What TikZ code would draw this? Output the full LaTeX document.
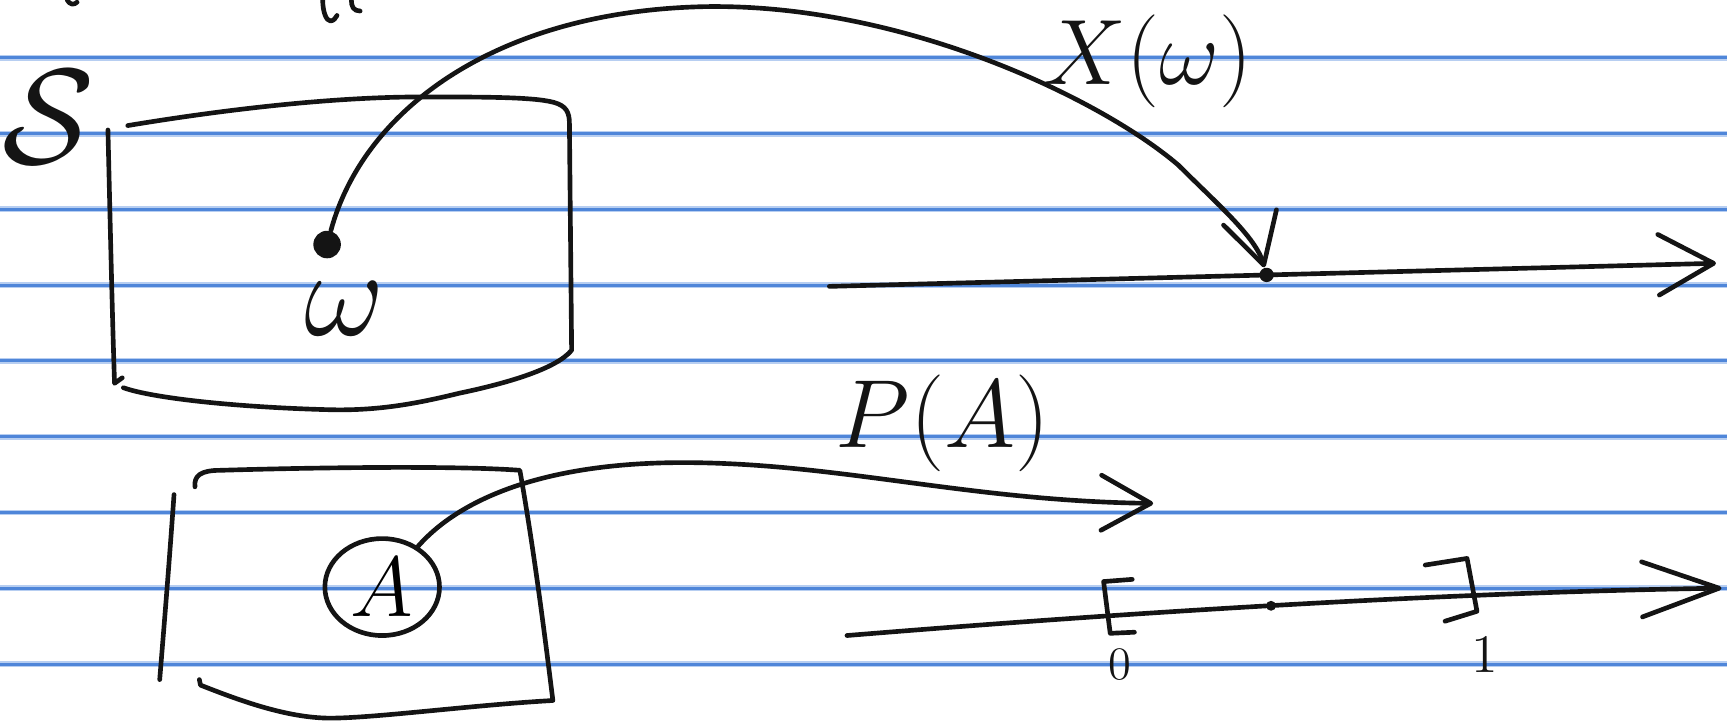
\RequirePackage{fix-cm}
\documentclass[tikz,border=0pt]{standalone}
\usepackage{tikz}
\usetikzlibrary{arrows.meta,positioning,shapes.geometric}
\definecolor{NBInk}{HTML}{141414}
\definecolor{NBRule}{HTML}{4F86D9}
\definecolor{NBRuleSoft}{HTML}{B7CEF1}
\tikzset{
  pen/.style={draw=NBInk,line width=1.2pt,line cap=round,line join=round},
  penarrow/.style={pen,-{Straight Barb[length=4.5mm,width=5mm,round]}},
  axisarrow/.style={pen,-{Straight Barb[length=5mm,width=5.5mm,round]}},
  axislong/.style={pen,-{Straight Barb[length=7mm,width=5mm,round]}},
  rulesoft/.style={NBRuleSoft,line width=1.5pt},
  rulecore/.style={NBRule,line width=0.75pt},
  blob/.style={circle,fill=NBInk,inner sep=0pt},
  hand/.style={text=NBInk,inner sep=0pt},
  tick/.style={hand,font=\fontsize{12}{14}\selectfont},
}
\begin{document}
\begin{tikzpicture}[x=0.01cm,y=-0.01cm]
  \useasboundingbox (0,0) rectangle (1568,656);
  \fill[white] (0,0) rectangle (1568,656);
  \foreach \k in {0,...,8}{
    \draw[rulesoft] (0,{52.5+68.8*\k}) -- (1568,{52.5+68.8*\k});
    \draw[rulecore] (0,{52.5+68.8*\k}) -- (1568,{52.5+68.8*\k});
  }

  % ends of the line above, cut off
  \draw[pen] (61,0) .. controls (63,4) and (67,5) .. (70,2);
  \draw[pen] (293,0) .. controls (293,10) and (296,19) .. (300,19) .. controls (303,19) and (305,16) .. (306,14);
  \draw[pen] (319,0) .. controls (319,6) and (321,10) .. (327,10);

  \node[hand,font=\fontsize{35}{40}\selectfont] (space) at (44,106) {$\mathcal{S}$};

  % sample space
  \draw[pen] (116,114) .. controls (200,100) and (300,88) .. (382,88)
    .. controls (440,88) and (485,88) .. (503,93) .. controls (514,96) and (517,102) .. (517,112)
    -- (519,318) .. controls (505,335) and (460,348) .. (417,357)
    .. controls (380,366) and (345,373) .. (300,372) .. controls (220,370) and (140,362) .. (112,352);
  \draw[pen] (98,118) .. controls (100,200) and (102,290) .. (104,348) -- (111,343);

  \node[blob,minimum size=2.5mm] (w) at (297,222) {};
  \node[hand,font=\fontsize{32}{38}\selectfont] (wlab) at (313,280) {$\omega$};

  \coordinate (ax1s) at (753,260);
  \coordinate (ax1e) at (1558,239);
  \draw[axisarrow] (ax1s) -- (ax1e);
  \node[blob,minimum size=1.3mm] (xw) at (1150,249.6) {};

  \draw[penarrow] (w) .. controls (330,100) and (450,10) .. (640,6)
    .. controls (820,3) and (1000,90) .. (1070,150)
    .. controls (1105,185) and (1140,215) .. (xw);
  \node[hand,font=\fontsize{24}{28}\selectfont] (xlab) at (1042,56) {$X(\omega)$};

  % events
  \draw[pen] (177,442) .. controls (176,432) and (182,427) .. (200,427)
    .. controls (300,424) and (420,423) .. (472,427)
    .. controls (485,500) and (495,580) .. (502,636)
    .. controls (430,640) and (340,652) .. (300,652)
    .. controls (260,652) and (215,635) .. (182,622) -- (181,617);
  \draw[pen] (158,449) .. controls (153,520) and (148,580) .. (145,617);

  \node[pen,ellipse,minimum width=10.4mm,minimum height=8.8mm,inner sep=0pt,
        font=\fontsize{22}{26}\selectfont] (A) at (347,533) {$A$};

  \coordinate (pend) at (1047,457);
  \draw[penarrow] (A) .. controls (420,450) and (500,420) .. (620,420)
    .. controls (760,420) and (880,455) .. (pend);
  \node[hand,font=\fontsize{25}{30}\selectfont] (plab) at (856,384) {$P(A)$};

  \coordinate (ax2s) at (769,577);
  \coordinate (ax2e) at (1563,534);
  \draw[axislong] (ax2s) .. controls (1000,558) and (1300,538) .. (ax2e);
  \node[blob,minimum size=0.9mm] (half) at (1154,550) {};
  \draw[pen] (1028,526) -- (1002,528) -- (1008,575) -- (1030,574);
  \draw[pen] (1294,513) -- (1332,507) -- (1341,555) -- (1312,564);
  \node[tick] (zero) at (1017,603) {0};
  \node[tick,font=\fontsize{14}{16}\selectfont] (one) at (1348,594) {1};
\end{tikzpicture}
\end{document}
